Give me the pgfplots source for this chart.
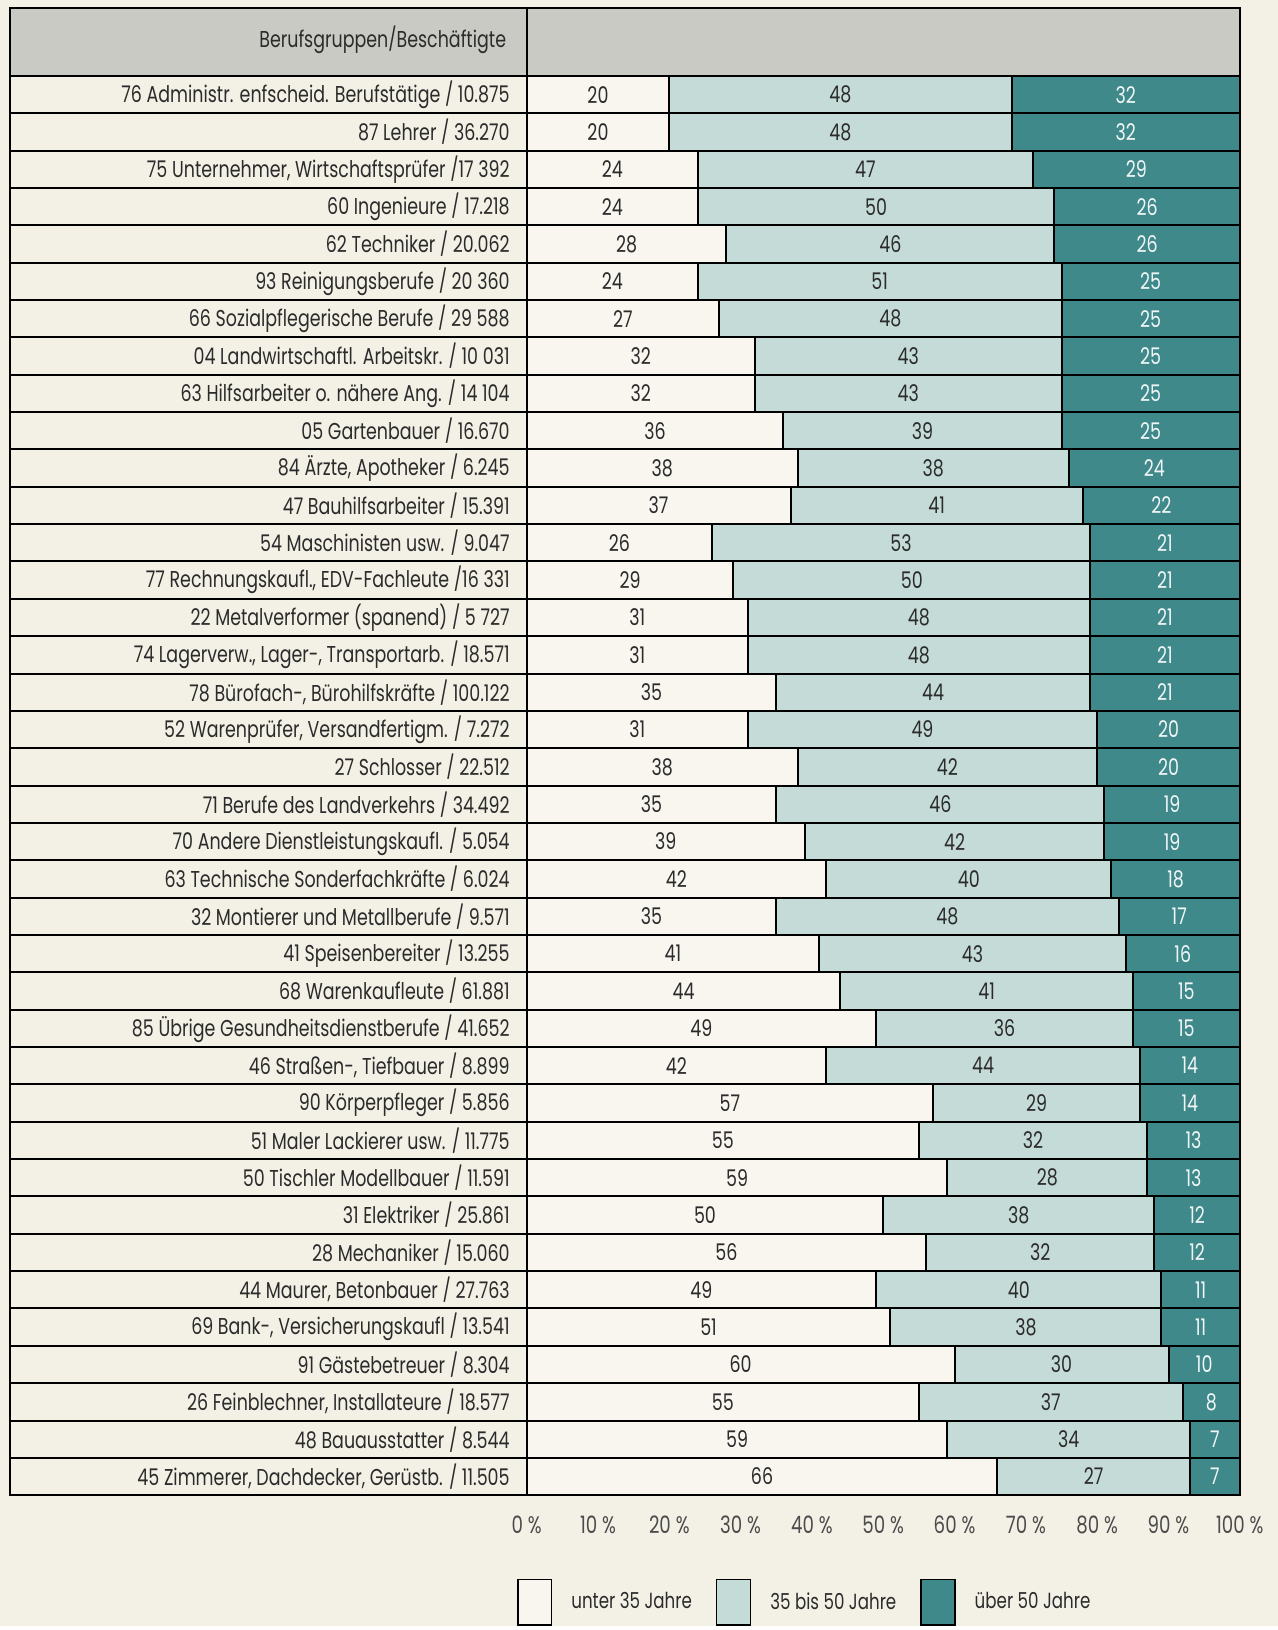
\documentclass[border=0pt]{standalone}
\usepackage{pgfplots}
\pgfplotsset{compat=1.18}
\usepackage{pgfplotstable}
\usepackage{fontspec}
\setmainfont[FakeStretch=0.76]{Poppins}
\definecolor{bgcream}{HTML}{F3F0E5}
\definecolor{cwhite}{HTML}{F8F6EF}
\definecolor{clight}{HTML}{C4DBD7}
\definecolor{cdark}{HTML}{3F898B}
\definecolor{headgrey}{HTML}{CACAC4}
\definecolor{txt}{HTML}{2B2B2B}
\pgfplotstableread[col sep=comma]{
y,a,b,c
1,20,48,32
2,20,48,32
3,24,47,29
4,24,50,26
5,28,46,26
6,24,51,25
7,27,48,25
8,32,43,25
9,32,43,25
10,36,39,25
11,38,38,24
12,37,41,22
13,26,53,21
14,29,50,21
15,31,48,21
16,31,48,21
17,35,44,21
18,31,49,20
19,38,42,20
20,35,46,19
21,39,42,19
22,42,40,18
23,35,48,17
24,41,43,16
25,44,41,15
26,49,36,15
27,42,44,14
28,57,29,14
29,55,32,13
30,59,28,13
31,50,38,12
32,56,32,12
33,49,40,11
34,51,38,11
35,60,30,10
36,55,37,8
37,59,34,7
38,66,27,7
}\data
\pgfplotsset{
  common/.style={
    at={(5pt,65.5pt)}, anchor=south west,
    scale only axis, width=616.5pt, height=745.5pt,
    xmin=-72.45, xmax=100, ymin=-1.32, ymax=38.5, y dir=reverse,
    clip=false,
  },
  legimg/.style={legend image code/.code={\draw[##1, line width=0.8pt] (0pt,-11.5pt) rectangle (17pt,11.5pt);}},
}
\begin{document}
\begin{tikzpicture}
\fill[bgcream] (0,0) rectangle (640.5pt,815pt);
\begin{axis}[common,
  xbar stacked, bar width=1,
  axis on top,
  axis line style={black, line width=1pt},
  tick style={draw=none},
  xtick={0,10,...,100},
  xticklabels={{0 \%},{10 \%},{20 \%},{30 \%},{40 \%},{50 \%},{60 \%},{70 \%},{80 \%},{90 \%},{100 \%}},
  xticklabel style={font=\fontsize{12}{14}\selectfont, text=txt!85, yshift=-7pt},
  ytick={1,...,38},
  yticklabels={
    {76 Administr. enfscheid. Berufstätige / 10.875},
    {87 Lehrer / 36.270},
    {75 Unternehmer, Wirtschaftsprüfer /17 392},
    {60 Ingenieure / 17.218},
    {62 Techniker / 20.062},
    {93 Reinigungsberufe / 20 360},
    {66 Sozialpflegerische Berufe / 29 588},
    {04 Landwirtschaftl. Arbeitskr. / 10 031},
    {63 Hilfsarbeiter o. nähere Ang. / 14 104},
    {05 Gartenbauer / 16.670},
    {84 Ärzte, Apotheker / 6.245},
    {47 Bauhilfsarbeiter / 15.391},
    {54 Maschinisten usw. / 9.047},
    {77 Rechnungskaufl., EDV-Fachleute /16 331},
    {22 Metalverformer (spanend) / 5 727},
    {74 Lagerverw., Lager-, Transportarb. / 18.571},
    {78 Bürofach-, Bürohilfskräfte / 100.122},
    {52 Warenprüfer, Versandfertigm. / 7.272},
    {27 Schlosser / 22.512},
    {71 Berufe des Landverkehrs / 34.492},
    {70 Andere Dienstleistungskaufl. / 5.054},
    {63 Technische Sonderfachkräfte / 6.024},
    {32 Montierer und Metallberufe / 9.571},
    {41 Speisenbereiter / 13.255},
    {68 Warenkaufleute / 61.881},
    {85 Übrige Gesundheitsdienstberufe / 41.652},
    {46 Straßen-, Tiefbauer / 8.899},
    {90 Körperpfleger / 5.856},
    {51 Maler Lackierer usw. / 11.775},
    {50 Tischler Modellbauer / 11.591},
    {31 Elektriker / 25.861},
    {28 Mechaniker / 15.060},
    {44 Maurer, Betonbauer / 27.763},
    {69 Bank-, Versicherungskaufl / 13.541},
    {91 Gästebetreuer / 8.304},
    {26 Feinblechner, Installateure / 18.577},
    {48 Bauausstatter / 8.544},
    {45 Zimmerer, Dachdecker, Gerüstb. / 11.505}},
  yticklabel style={anchor=east, xshift=254pt, font=\fontsize{11.5}{13}\selectfont, text=txt},
  extra y ticks={0.5,1.5,...,38.5},
  extra y tick labels={},
  extra y tick style={grid=major, major grid style={black, line width=1pt}},
  extra x ticks={0},
  extra x tick labels={},
  extra x tick style={grid=major, major grid style={black, line width=1pt}},
  legend style={at={(0.407,-0.072)}, anchor=west, draw=none, fill=none,
    legend columns=3, font=\fontsize{11}{13}\selectfont, text=txt,
    /tikz/every even column/.append style={column sep=2.5pt},
    nodes={inner xsep=9.5pt, inner ysep=5pt}},
]
\fill[headgrey] (axis cs:-72.45,-1.32) rectangle (axis cs:100,0.5);
\addplot[fill=cwhite, draw=black, line width=1pt, legimg] table[x=a,y=y]{\data};
\addplot[fill=clight, draw=black, line width=1pt, legimg] table[x=b,y=y]{\data};
\addplot[fill=cdark, draw=black, line width=1pt, legimg] table[x=c,y=y]{\data};
\legend{unter 35 Jahre, 35 bis 50 Jahre, über 50 Jahre}
\end{axis}
\begin{axis}[common, hide axis,
  every node near coord/.style={anchor=center, font=\fontsize{11.5}{13}\selectfont}]
\node[anchor=east, text=txt, font=\fontsize{11.5}{13}\selectfont] at (axis cs:-1.9,-0.48) {Berufsgruppen/Beschäftigte};
\addplot[draw=none, mark=none, nodes near coords, point meta=explicit symbolic,
  every node near coord/.append style={text=txt}]
  table[x expr=\thisrow{a}/2, y=y, meta=a]{\data};
\addplot[draw=none, mark=none, nodes near coords, point meta=explicit symbolic,
  every node near coord/.append style={text=txt}]
  table[x expr=\thisrow{a}+\thisrow{b}/2, y=y, meta=b]{\data};
\addplot[draw=none, mark=none, nodes near coords, point meta=explicit symbolic,
  every node near coord/.append style={text=white!92!cdark}]
  table[x expr=\thisrow{a}+\thisrow{b}+\thisrow{c}/2, y=y, meta=c]{\data};
\end{axis}
\end{tikzpicture}
\end{document}
